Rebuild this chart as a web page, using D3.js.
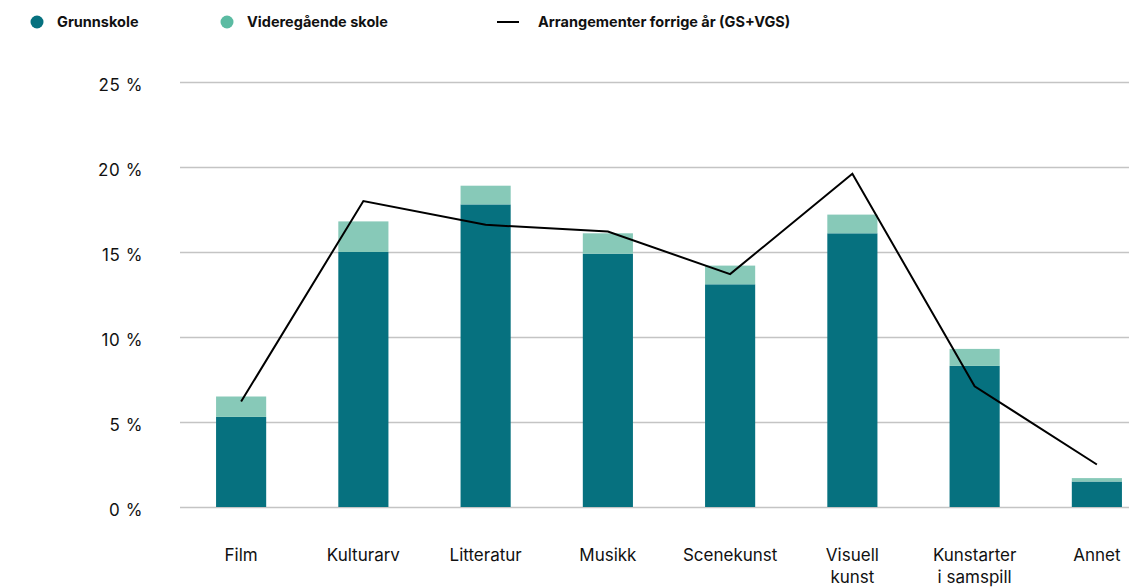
<!DOCTYPE html>
<html>
<head>
<meta charset="utf-8">
<script src="https://cdn.jsdelivr.net/npm/d3@7"></script>
<style>
  body { margin: 0; background: #fff; }
  svg text { font-family: "Inter", "Open Sans", sans-serif; fill: #111; }
</style>
</head>
<body>
<div class="canvas"></div>
<script>
// data
const categories = ['Film', 'Kulturarv', 'Litteratur', 'Musikk', 'Scenekunst', 'Visuell\nkunst', 'Kunstarter\ni samspill', 'Annet'];
const grunnskole = [5.3, 15.0, 17.8, 14.9, 13.1, 16.1, 8.3, 1.5];
const videregaende = [1.2, 1.8, 1.1, 1.2, 1.1, 1.1, 1.0, 0.2];
const forrigeAr = [6.2, 18.0, 16.6, 16.2, 13.7, 19.6, 7.1, 2.5];
const yTicks = [0, 5, 10, 15, 20, 25];

const dims = { width: 1129, height: 587 };
const colors = { gs: '#06717f', vgs: '#87c9b8', vgsLegend: '#5bbba2' };

const svg = d3.select('.canvas')
    .append('svg')
    .attr('width', dims.width)
    .attr('height', dims.height);

// scales
const x = d3.scaleBand()
    .domain(categories)
    .range([180, 1158])
    .paddingInner(0.59)
    .paddingOuter(0.295);

const y = d3.scaleLinear()
    .domain([0, 25])
    .range([507, 82]);

// gridlines + y labels
const yAxis = svg.append('g')
    .attr('transform', 'translate(180, 0)')
    .call(d3.axisLeft(y).tickValues(yTicks).tickSize(-dims.width).tickFormat(d => d + ' %'));
yAxis.select('.domain').remove();
yAxis.selectAll('.tick line').attr('stroke', '#c4c4c4').attr('stroke-width', 1.3);
yAxis.selectAll('.tick text')
    .attr('x', -37)
    .attr('y', 3)
    .attr('font-size', 17)
    .attr('letter-spacing', 0.6)
    .style('font-family', '"Inter", sans-serif');

// stacked bars
const rows = categories.map((c, i) => ({ cat: c, gs: grunnskole[i], vgs: videregaende[i] }));
const stacked = d3.stack().keys(['gs', 'vgs'])(rows);

svg.append('g').selectAll('g')
    .data(stacked)
    .enter()
    .append('g')
    .attr('fill', d => colors[d.key])
    .selectAll('rect')
    .data(d => d)
    .enter()
    .append('rect')
    .attr('x', d => x(d.data.cat))
    .attr('width', x.bandwidth())
    .attr('y', d => y(d[1]))
    .attr('height', d => y(d[0]) - y(d[1]));

// last year's line
const line = d3.line()
    .x((d, i) => x(categories[i]) + x.bandwidth() / 2)
    .y(d => y(d));

svg.append('path')
    .datum(forrigeAr)
    .attr('fill', 'none')
    .attr('stroke', '#000')
    .attr('stroke-width', 2)
    .attr('d', line);

// x labels (multi-line)
const xLabels = svg.append('g').selectAll('text')
    .data(categories)
    .enter()
    .append('text')
    .attr('text-anchor', 'middle')
    .attr('font-size', 17)
    .attr('x', d => x(d) + x.bandwidth() / 2)
    .attr('y', 561);
xLabels.selectAll('tspan')
    .data(d => d.split('\n'))
    .enter()
    .append('tspan')
    .attr('x', function() { return this.parentNode.getAttribute('x'); })
    .attr('dy', (d, i) => i === 0 ? 0 : 22)
    .text(d => d);

// legend
const legend = svg.append('g').attr('font-size', 14.5).attr('font-weight', 'bold');
legend.append('circle').attr('cx', 37).attr('cy', 22).attr('r', 6.5).attr('fill', colors.gs);
legend.append('text').attr('x', 57).attr('y', 27).text('Grunnskole');
legend.append('circle').attr('cx', 227).attr('cy', 22).attr('r', 6.5).attr('fill', colors.vgsLegend);
legend.append('text').attr('x', 247).attr('y', 27).text('Videregående skole');
legend.append('line').attr('x1', 497).attr('x2', 519).attr('y1', 22).attr('y2', 22)
    .attr('stroke', '#000').attr('stroke-width', 2);
legend.append('text').attr('x', 538).attr('y', 27).text('Arrangementer forrige år (GS+VGS)');
</script>
</body>
</html>
